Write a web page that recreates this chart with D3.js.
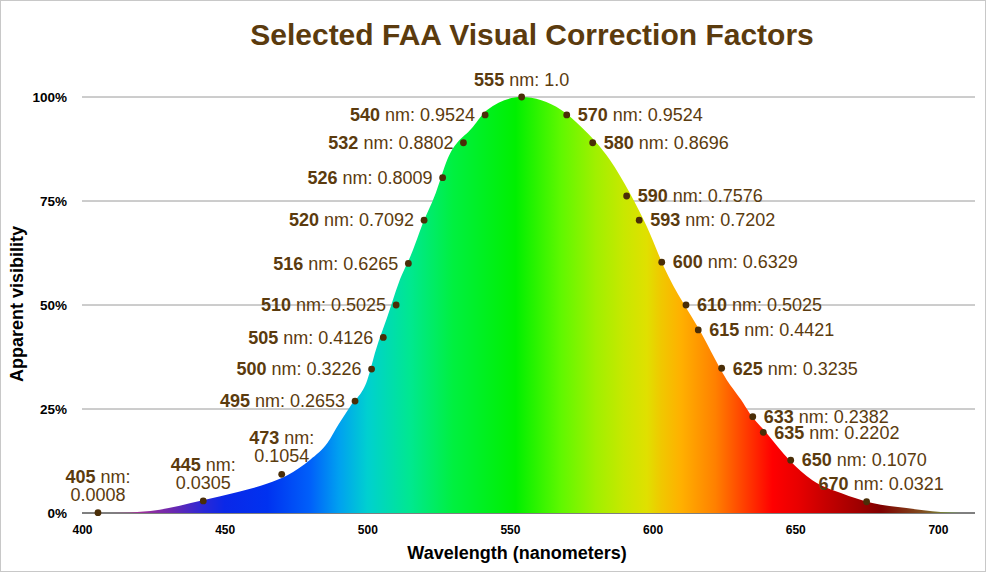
<!DOCTYPE html>
<html><head><meta charset="utf-8">
<script src="https://cdn.jsdelivr.net/npm/d3@7"></script>
<style>
body{margin:0;background:#fff}
svg{display:block;font-family:"Liberation Sans",Arial,Helvetica,sans-serif}
</style>
</head><body><svg id="c" width="986" height="572"></svg>
<script>
// ---- data ----
const title = "Selected FAA Visual Correction Factors";
const xTitle = "Wavelength (nanometers)";
const yTitle = "Apparent visibility";
const xTicks = [400, 450, 500, 550, 600, 650, 700];
const yTicks = [0, 0.25, 0.5, 0.75, 1.0];

// labelled wavelengths and correction factors (as printed)
const labelNm = [405,445,473,495,500,505,510,516,520,526,532,540,555,570,580,590,593,600,610,615,625,633,635,650,670];
const factorLabels = ["0.0008","0.0305","0.1054","0.2653","0.3226","0.4126","0.5025","0.6265","0.7092","0.8009","0.8802","0.9524","1.0","0.9524","0.8696","0.7576","0.7202","0.6329","0.5025","0.4421","0.3235","0.2382","0.2202","0.1070","0.0321"];
// where each point is drawn in the picture (x in nm, y as fraction)
const pointNm  = [405.6,442.5,470,495.7,501.5,505.6,510.1,514.4,519.9,526.4,533.7,541.3,554.1,569.9,579,590.9,595.3,603.2,611.7,616,624.2,635.1,638.8,648.4,675];
const pointVal = [0.0008,0.029,0.093,0.269,0.346,0.422,0.5,0.600,0.704,0.806,0.890,0.957,1.0,0.957,0.890,0.762,0.704,0.603,0.5,0.44,0.348,0.2315,0.194,0.127,0.027];

// visibility curve (filled area)
const curveNm  = [410,424,442,455,465,472,480,486,490,494,500,503,507,511,516,519,524,528,537,542,554,568,575,585,592,598,604,617,626,631,634,640,648,656,666,677,689,701,708];
const curveVal = [0,0.005,0.030,0.051,0.071,0.091,0.128,0.168,0.214,0.256,0.32,0.392,0.471,0.553,0.632,0.688,0.769,0.849,0.928,0.969,1.0,0.969,0.928,0.849,0.769,0.688,0.591,0.433,0.32,0.272,0.240,0.192,0.127,0.079,0.048,0.024,0.012,0.0024,0];

// spectrum colours along wavelength
const spectrumNm = [410,420,432,443,450,465,480,490,500,515,530,552,568,580,590,598,603,610,622,632,642,651,660,672,680,695,706];
const spectrumColor = ["#9a5c8c","#a03098","#6a28b0","#2828d8","#0a28e8","#0032f0","#0060fa","#00a0f0","#00d0d0","#00e890","#00f040","#00f000","#60f800","#a0f000","#c8e800","#e0e000","#f0c800","#ffb000","#ff8000","#ff4000","#ff0000","#e80000","#c80000","#a00000","#800000","#805020","#70a040"];

// ---- chart ----
const svg = d3.select("#c");
const brown = "#5b3b0e";
const x = d3.scaleLinear().domain([400, 713]).range([82, 975]);
const y = d3.scaleLinear().domain([0, 1]).range([513, 97]);
const [x0, x1] = x.range();

svg.append("rect").attr("x",0.5).attr("y",0.5).attr("width",985).attr("height",571)
  .attr("fill","#fff").attr("stroke","#c8c8c8");

// gradient
const defs = svg.append("defs");
const grad = defs.append("linearGradient").attr("id","spec")
  .attr("gradientUnits","userSpaceOnUse")
  .attr("x1",x0).attr("x2",x1).attr("y1",0).attr("y2",0);
spectrumNm.forEach((nm,i)=>{
  grad.append("stop").attr("offset",(x(nm)-x0)/(x1-x0)).attr("stop-color",spectrumColor[i]);
});

// gridlines
svg.append("g").selectAll("line").data(yTicks.filter(d=>d>0)).join("line")
  .attr("x1",x0).attr("x2",x1).attr("y1",d=>y(d)).attr("y2",d=>y(d))
  .attr("stroke","#9a9a9a").attr("stroke-width",1);
svg.append("line").attr("x1",x0).attr("x2",x1).attr("y1",y(0)).attr("y2",y(0))
  .attr("stroke","#000").attr("stroke-width",1);

// area
const pts = curveNm.map((nm,i)=>[nm,curveVal[i]]);
const area = d3.area().x(d=>x(d[0])).y0(y(0)).y1(d=>y(d[1])).curve(d3.curveMonotoneX);
svg.append("path").datum(pts).attr("d",area).attr("fill","url(#spec)");

// axes
const xAxis = svg.append("g").attr("transform",`translate(0,${y(0)})`)
  .call(d3.axisBottom(x).tickValues(xTicks).tickSize(0).tickPadding(12).tickFormat(d3.format("d")));
xAxis.select(".domain").remove();
xAxis.selectAll("text").attr("font-size",12).attr("font-weight","bold").attr("fill","#000")
  .attr("font-family","Liberation Sans, Arial, sans-serif");

const yAxis = svg.append("g").attr("transform",`translate(${x0},0)`)
  .call(d3.axisLeft(y).tickValues(yTicks).tickSize(0).tickPadding(15).tickFormat(d3.format(".0%")));
yAxis.select(".domain").remove();
yAxis.selectAll("text").attr("font-size",13.5).attr("font-weight","bold").attr("fill","#000")
  .attr("font-family","Liberation Sans, Arial, sans-serif");

// titles
svg.append("text").attr("x",532).attr("y",45).attr("text-anchor","middle")
  .attr("font-size",30).attr("font-weight","bold").attr("fill",brown).text(title);
svg.append("text").attr("x",517).attr("y",559).attr("text-anchor","middle")
  .attr("font-size",18).attr("font-weight","bold").attr("fill","#000").text(xTitle);
svg.append("text").attr("transform","translate(23,304) rotate(-90)").attr("text-anchor","middle")
  .attr("font-size",18).attr("font-weight","bold").attr("fill","#000").text(yTitle);

// points
const pd = labelNm.map((nm,i)=>({nm, px:pointNm[i], v:pointVal[i], lab:factorLabels[i]}));
const peak = pd[d3.maxIndex(pd, d=>d.v)];
svg.append("g").selectAll("circle").data(pd).join("circle")
  .attr("cx",d=>x(d.px)).attr("cy",d=>y(d.v)).attr("r",3.4).attr("fill","#4a2e08");

// labels
const lg = svg.append("g").attr("font-size",18).attr("fill",brown);
pd.forEach(d=>{
  const cx = x(d.px), cy = y(d.v);
  if (d.v < 0.2 && d.nm < peak.nm) {
    // two-line label above the point
    const t1 = lg.append("text").attr("x",cx).attr("y",cy-30).attr("text-anchor","middle");
    t1.append("tspan").attr("font-weight","bold").text(d.nm);
    t1.append("tspan").text(" nm:");
    lg.append("text").attr("x",cx).attr("y",cy-12).attr("text-anchor","middle").text(d.lab);
    return;
  }
  let t;
  if (d === peak) {
    t = lg.append("text").attr("x",cx).attr("y",cy-11).attr("text-anchor","middle");
  } else if (d.nm < peak.nm) {
    t = lg.append("text").attr("x",cx-10).attr("y",cy).attr("dy","0.35em").attr("text-anchor","end");
  } else if (d.v > 0.05) {
    t = lg.append("text").attr("x",cx+11).attr("y",cy).attr("dy","0.35em").attr("text-anchor","start");
  } else {
    t = lg.append("text").attr("x",cx-48).attr("y",cy-12).attr("text-anchor","start");
  }
  t.append("tspan").attr("font-weight","bold").text(d.nm);
  t.append("tspan").text(" nm: " + d.lab);
});
</script></body></html>
